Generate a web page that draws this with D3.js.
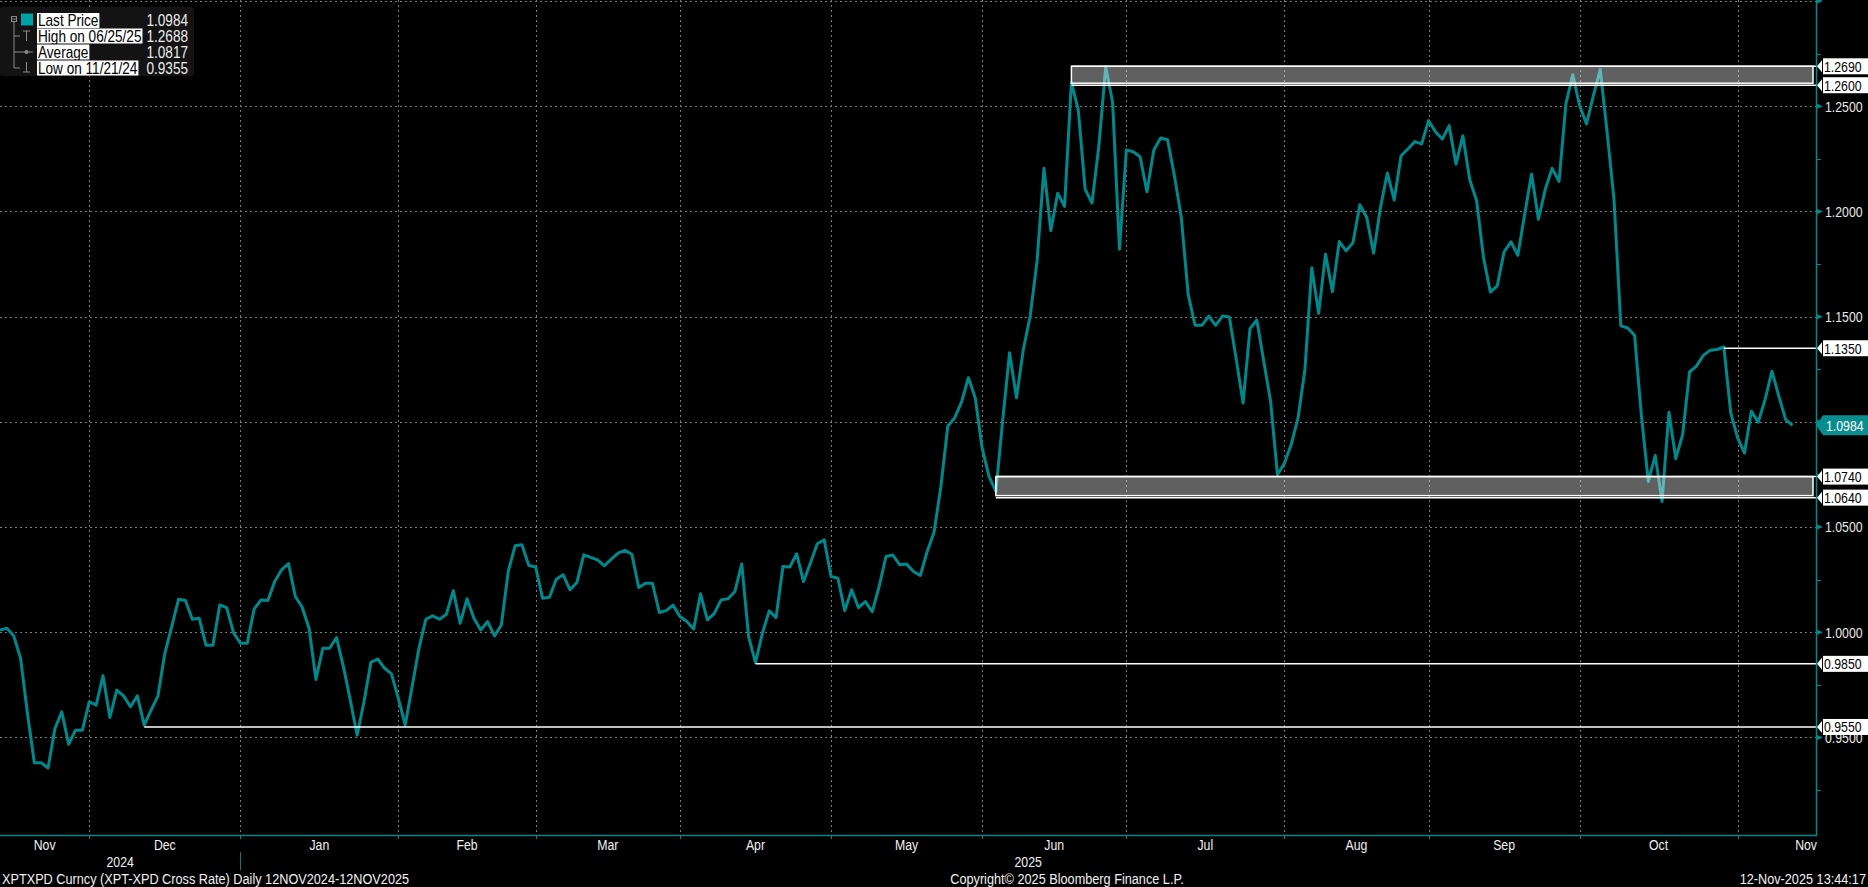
<!DOCTYPE html>
<html><head><meta charset="utf-8">
<script src="https://cdn.jsdelivr.net/npm/d3@7"></script>
<style>
html,body{margin:0;padding:0;background:#000;overflow:hidden;}
svg{display:block;}
text{font-family:"Liberation Sans",Arial,sans-serif;}
</style></head><body>
<svg id="chart" width="1868" height="887"></svg>
<script>
// ---------------- data ----------------
const startDate = "2024-11-12"; // first trading day shown (weekdays only)
const values = [
1.0011,1.0019,0.9983,0.9876,0.9614,0.9380,0.9380,0.9355,0.9543,0.9622,
0.9468,0.9535,0.9535,0.9670,0.9654,0.9794,0.9595,0.9725,0.9698,0.9646,
0.9698,0.9559,0.9630,0.9698,0.9900,1.0027,1.0157,1.0151,1.0062,1.0067,
0.9938,0.9938,1.0130,1.0117,0.9998,0.9948,0.9948,1.0110,1.0154,1.0151,
1.0241,1.0297,1.0327,1.0170,1.0119,1.0019,0.9776,0.9924,0.9924,0.9975,
0.9837,0.9678,0.9511,0.9670,0.9857,0.9873,0.9829,0.9802,0.9686,0.9559,
0.9741,0.9924,1.0062,1.0078,1.0062,1.0086,1.0198,1.0043,1.0159,1.0067,
1.0011,1.0051,0.9983,1.0035,1.0289,1.0411,1.0416,1.0317,1.0310,1.0162,
1.0167,1.0252,1.0273,1.0202,1.0237,1.0368,1.0356,1.0344,1.0316,1.0348,
1.0376,1.0389,1.0371,1.0213,1.0233,1.0233,1.0094,1.0103,1.0129,1.0075,
1.0051,1.0016,1.0183,1.0059,1.0090,1.0154,1.0159,1.0194,1.0325,0.9979,
0.9856,0.9995,1.0102,1.0070,1.0313,1.0310,1.0373,1.0241,1.0329,1.0421,
1.0440,1.0265,1.0257,1.0103,1.0202,1.0117,1.0146,1.0098,1.0217,1.0360,
1.0367,1.0321,1.0324,1.0289,1.0270,1.0384,1.0475,1.0694,1.0979,1.1019,
1.1094,1.1210,1.1114,1.0876,1.0741,1.0670,1.1010,1.1329,1.1114,1.1344,
1.1503,1.1765,1.2205,1.1908,1.2087,1.2024,1.2614,1.2483,1.2106,1.2040,
1.2313,1.2688,1.2519,1.1821,1.2292,1.2284,1.2260,1.2094,1.2292,1.2349,
1.2341,1.2170,1.1971,1.1606,1.1459,1.1459,1.1503,1.1459,1.1503,1.1498,
1.1297,1.1090,1.1443,1.1484,1.1289,1.1098,1.0749,1.0802,1.0892,1.1019,
1.1249,1.1733,1.1516,1.1797,1.1619,1.1857,1.1813,1.1852,1.2032,1.1971,
1.1802,1.2019,1.2183,1.2054,1.2265,1.2297,1.2332,1.2321,1.2432,1.2379,
1.2344,1.2408,1.2225,1.2360,1.2151,1.2051,1.1781,1.1617,1.1646,1.1808,
1.1856,1.1792,1.1987,1.2178,1.1963,1.2106,1.2205,1.2143,1.2511,1.2650,
1.2503,1.2416,1.2551,1.2675,1.2376,1.2059,1.1456,1.1446,1.1411,1.1027,
1.0717,1.0840,1.0622,1.1046,1.0825,1.0940,1.1237,1.1265,1.1316,1.1340,
1.1344,1.1356,1.1043,1.0924,1.0852,1.1051,1.0998,1.1106,1.1241,1.1122,
1.1011,1.0984
];
const yTicks = [0.95,1.00,1.05,1.10,1.15,1.20,1.25,1.30];
const yMinorTicks = [0.925,0.975,1.025,1.075,1.125,1.175,1.225,1.275];
const monthNames = ["Nov","Dec","Jan","Feb","Mar","Apr","May","Jun","Jul","Aug","Sep","Oct","Nov"];
const yearLabels = ["2024","2025"];
const levelLines = [ {value:0.9550, fromIdx:21}, {value:0.9850, fromIdx:110}, {value:1.1350, fromIdx:251} ];
const boxes = [ {low:1.2600, high:1.2690, fromIdx:156}, {low:1.0640, high:1.0740, fromIdx:145} ];
const legendLabels = ["Last Price","High on 06/25/25","Average","Low on 11/21/24"];
const legendValues = ["1.0984","1.2688","1.0817","0.9355"];
const lastPrice = 1.0984;
const footerLeft = "XPTXPD Curncy (XPT-XPD Cross Rate) Daily 12NOV2024-12NOV2025";
const footerMid = "Copyright\u00A9 2025 Bloomberg Finance L.P.";
const footerRight = "12-Nov-2025 13:44:17";

// ---------------- layout ----------------
const W = 1868, H = 887;
const plotR = 1816, plotB = 835;
const teal = "#00898c";
const SX = 0.82; // horizontal squeeze to mimic the narrow terminal font
const svg = d3.select("#chart");
svg.append("rect").attr("width",W).attr("height",H).attr("fill","#000");

function txt(g, x, y, str, size, fill, anchor, sx) {
  return g.append("text")
    .attr("transform", `translate(${x},${y}) scale(${sx||SX},1)`)
    .attr("dy","0.36em").attr("font-size",size).attr("fill",fill)
    .attr("text-anchor",anchor||"start").text(str);
}

// weekday dates
const dates = [];
{ let d = new Date(startDate+"T00:00:00");
  while (dates.length < values.length) {
    const wd = d.getDay();
    if (wd !== 0 && wd !== 6) dates.push(new Date(d));
    d.setDate(d.getDate()+1);
  } }
const n = values.length;
const x = d3.scaleLinear().domain([0, n-1]).range([0, 6.868*(n-1)]);
const y = d3.scaleLinear().domain([0.90366, 1.3005]).range([plotB, 0]);

// month boundaries (last trading day of each month)
const bounds = [];
for (let i=0;i<n-1;i++) if (dates[i+1].getMonth() !== dates[i].getMonth()) bounds.push(i);

// ---------------- gridlines ----------------
const grid = svg.append("g").attr("stroke","#7a7a7a").attr("stroke-width",1).attr("stroke-dasharray","2,3");
yTicks.forEach(v => {
  const yy = Math.round(y(v))+0.5;
  grid.append("line").attr("x1",0).attr("x2",plotR).attr("y1",yy).attr("y2",yy);
});
bounds.forEach(i => {
  const xx = Math.round(x(i))+0.5;
  grid.append("line").attr("x1",xx).attr("x2",xx).attr("y1",0).attr("y2",plotB);
});

// ---------------- price line ----------------
svg.append("path").datum(values)
  .attr("fill","none").attr("stroke",teal).attr("stroke-width",3)
  .attr("stroke-linejoin","round")
  .attr("d", d3.line().x((d,i)=>x(i)).y(d=>y(d)));

// ---------------- boxes & level lines ----------------
boxes.forEach(b => {
  const x0 = x(b.fromIdx);
  svg.append("rect").attr("x",x0).attr("y",y(b.high)).attr("width",1813-x0)
    .attr("height",y(b.low)-y(b.high)-2)
    .attr("fill","rgba(255,255,255,0.375)").attr("stroke","#fff").attr("stroke-width",1.5);
  svg.append("line").attr("x1",x0).attr("x2",plotR).attr("y1",y(b.low)).attr("y2",y(b.low))
    .attr("stroke","#fff").attr("stroke-width",1.5);
  svg.append("line").attr("x1",x0).attr("x2",plotR).attr("y1",y(b.high)).attr("y2",y(b.high))
    .attr("stroke","#fff").attr("stroke-width",1.5);
});
levelLines.forEach(l => {
  svg.append("line").attr("x1",x(l.fromIdx)).attr("x2",plotR).attr("y1",y(l.value)).attr("y2",y(l.value))
    .attr("stroke","#fff").attr("stroke-width",1.5);
});

// ---------------- axes ----------------
svg.append("line").attr("x1",plotR+0.5).attr("x2",plotR+0.5).attr("y1",0).attr("y2",plotB+1)
  .attr("stroke",teal).attr("stroke-width",1.5);
svg.append("line").attr("x1",0).attr("x2",plotR+1).attr("y1",plotB+0.5).attr("y2",plotB+0.5)
  .attr("stroke",teal).attr("stroke-width",1.5);
bounds.forEach(i => {
  const xx = Math.round(x(i))+0.5;
  svg.append("line").attr("x1",xx).attr("x2",xx).attr("y1",plotB).attr("y2",plotB+4)
    .attr("stroke",teal).attr("stroke-width",1);
});
yMinorTicks.forEach(v => {
  svg.append("line").attr("x1",plotR).attr("x2",plotR+5).attr("y1",Math.round(y(v))+0.5).attr("y2",Math.round(y(v))+0.5)
    .attr("stroke",teal).attr("stroke-width",1);
});
yTicks.forEach(v => {
  const yy = y(v);
  svg.append("path").attr("d",`M${plotR},${yy-3}L${plotR+7},${yy}L${plotR},${yy+3}Z`).attr("fill",teal);
  if (yy > 8) txt(svg, plotR+9, yy, v.toFixed(4), 15, "#e8e8e8");
});

// level labels
function levelLabel(v, bg, fg) {
  const yy = y(v);
  svg.append("path").attr("d",`M${plotR+1},${yy}L${plotR+6},${yy-6}L${plotR+6},${yy+6}Z`).attr("fill",bg);
  svg.append("rect").attr("x",plotR+7).attr("y",yy-8).attr("width",W-plotR-7).attr("height",16).attr("fill",bg);
  txt(svg, plotR+8, yy, v.toFixed(4), 15, fg);
}
boxes.forEach(b => { levelLabel(b.high,"#fff","#000"); levelLabel(b.low,"#fff","#000"); });
levelLines.forEach(l => levelLabel(l.value,"#fff","#000"));

// last price label
{
  const yy = y(lastPrice);
  svg.append("path").attr("d",`M${plotR},${yy}L${plotR+7},${yy-10}L${W},${yy-10}L${W},${yy+10}L${plotR+7},${yy+10}Z`)
    .attr("fill","#0a8d8f");
  txt(svg, plotR+10, yy, lastPrice.toFixed(4), 15, "#fff");
}

// month labels
const starts = [0, ...bounds.map(b=>x(b))];
monthNames.forEach((m,k) => {
  const last = k === monthNames.length-1;
  const a = starts[k], b = last ? plotR : x(bounds[k]);
  if (last) txt(svg, plotR+1, plotB+10, m, 15, "#f0f0f0", "end");
  else txt(svg, (a+b)/2, plotB+10, m, 15, "#f0f0f0", "middle");
});
// year labels and separator
const jan = x(bounds[1]);
txt(svg, jan/2, 862, yearLabels[0], 15, "#f0f0f0", "middle");
txt(svg, (jan+plotR)/2, 862, yearLabels[1], 15, "#f0f0f0", "middle");
svg.append("line").attr("x1",Math.round(jan)+0.5).attr("x2",Math.round(jan)+0.5).attr("y1",852).attr("y2",870)
  .attr("stroke","#1f6f6f").attr("stroke-width",1);

// footer
txt(svg, 2, 878, footerLeft, 15.5, "#f0f0f0", "start");
txt(svg, 1067, 878, footerMid, 15.5, "#f0f0f0", "middle");
txt(svg, 1866, 878, footerRight, 15.5, "#f0f0f0", "end");

// ---------------- legend ----------------
const lg = svg.append("g");
lg.append("rect").attr("x",0).attr("y",7).attr("width",194).attr("height",69).attr("rx",3).attr("fill","#131313");
const rowsY = [20.5, 36, 52, 68];
const gcol = "#8a8a8a";
// tree
lg.append("rect").attr("x",11.5).attr("y",16.5).attr("width",5).attr("height",5).attr("fill","none").attr("stroke",gcol);
lg.append("line").attr("x1",12).attr("x2",16).attr("y1",19).attr("y2",19).attr("stroke",gcol);
lg.append("line").attr("x1",14).attr("x2",14).attr("y1",22).attr("y2",68).attr("stroke",gcol);
rowsY.slice(1).forEach(r => lg.append("line").attr("x1",14).attr("x2",20).attr("y1",r).attr("y2",r).attr("stroke",gcol));
lg.append("rect").attr("x",21).attr("y",13.5).attr("width",12).attr("height",12).attr("fill","#00a0a3");
// high icon
lg.append("line").attr("x1",23).attr("x2",30).attr("y1",31).attr("y2",31).attr("stroke",gcol);
lg.append("line").attr("x1",26.5).attr("x2",26.5).attr("y1",31).attr("y2",41).attr("stroke",gcol);
// average icon
lg.append("line").attr("x1",20).attr("x2",33).attr("y1",52).attr("y2",52).attr("stroke",gcol);
lg.append("circle").attr("cx",26.5).attr("cy",52).attr("r",2).attr("fill",gcol);
// low icon
lg.append("line").attr("x1",26.5).attr("x2",26.5).attr("y1",62).attr("y2",72).attr("stroke",gcol);
lg.append("line").attr("x1",23).attr("x2",30).attr("y1",72).attr("y2",72).attr("stroke",gcol);
const LSX = 0.85;
legendLabels.forEach((lab,k) => {
  const t = txt(lg, 38, rowsY[k], lab, 16, "#000", "start", LSX);
  const bb = t.node().getBBox();
  lg.insert("rect", () => t.node()).attr("x",37).attr("y",rowsY[k]-7.5)
    .attr("width",bb.width*LSX+2).attr("height",15).attr("fill","#fff");
  txt(lg, 188, rowsY[k], legendValues[k], 16, "#ececec", "end", LSX);
});
</script>
</body></html>
